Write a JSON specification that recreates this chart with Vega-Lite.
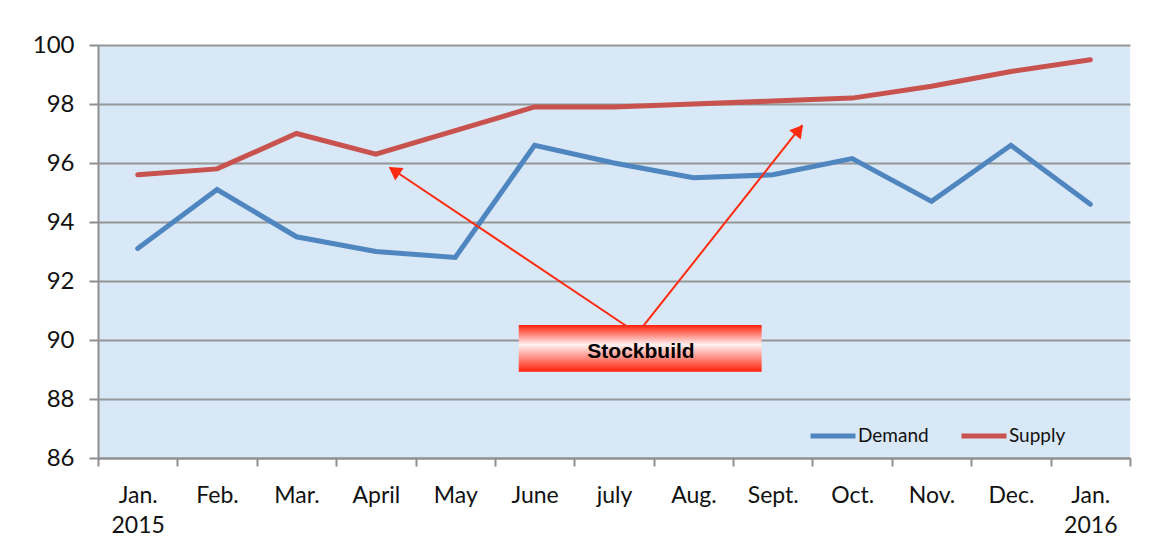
{
  "$schema": "https://vega.github.io/schema/vega-lite/v6.json",
  "autosize": "none",
  "width": 1032,
  "height": 413,
  "padding": {"left": 98, "top": 45, "right": 44, "bottom": 96},
  "background": "#ffffff",
  "config": {
    "view": {"fill": "#d9e8f7", "stroke": null},
    "font": "Lato"
  },
  "datasets": {
    "series": [
      {"month": "Jan.|2015", "series": "Demand", "value": 93.1},
      {"month": "Feb.", "series": "Demand", "value": 95.1},
      {"month": "Mar.", "series": "Demand", "value": 93.5},
      {"month": "April", "series": "Demand", "value": 93.0},
      {"month": "May", "series": "Demand", "value": 92.8},
      {"month": "June", "series": "Demand", "value": 96.6},
      {"month": "july", "series": "Demand", "value": 96.0},
      {"month": "Aug.", "series": "Demand", "value": 95.5},
      {"month": "Sept.", "series": "Demand", "value": 95.6},
      {"month": "Oct.", "series": "Demand", "value": 96.15},
      {"month": "Nov.", "series": "Demand", "value": 94.7},
      {"month": "Dec.", "series": "Demand", "value": 96.6},
      {"month": "Jan.|2016", "series": "Demand", "value": 94.6},
      {"month": "Jan.|2015", "series": "Supply", "value": 95.6},
      {"month": "Feb.", "series": "Supply", "value": 95.8},
      {"month": "Mar.", "series": "Supply", "value": 97.0},
      {"month": "April", "series": "Supply", "value": 96.3},
      {"month": "May", "series": "Supply", "value": 97.1},
      {"month": "June", "series": "Supply", "value": 97.9},
      {"month": "july", "series": "Supply", "value": 97.9},
      {"month": "Aug.", "series": "Supply", "value": 98.0},
      {"month": "Sept.", "series": "Supply", "value": 98.1},
      {"month": "Oct.", "series": "Supply", "value": 98.2},
      {"month": "Nov.", "series": "Supply", "value": 98.6},
      {"month": "Dec.", "series": "Supply", "value": 99.1},
      {"month": "Jan.|2016", "series": "Supply", "value": 99.5}
    ],
    "box": [{"ax": 5.30, "ax2": 8.36, "ay": 88.92, "ay2": 90.51, "label": "Stockbuild", "tx": 6.84, "ty": 89.6}],
    "arrows": [
      {"ax": 6.73, "ay": 90.34, "ax2": 3.68, "ay2": 95.84, "hx": 3.73, "hy": 95.74, "angle": 304},
      {"ax": 6.83, "ay": 90.34, "ax2": 8.87, "ay2": 97.28, "hx": 8.83, "hy": 97.12, "angle": 38.5}
    ]
  },
  "resolve": {"scale": {"x": "independent"}},
  "layer": [
    {
      "data": {"name": "series"},
      "mark": {"type": "line", "strokeWidth": 5, "strokeCap": "round", "strokeJoin": "miter"},
      "encoding": {
        "x": {
          "field": "month",
          "type": "nominal",
          "sort": null,
          "bandPosition": 0.5,
          "scale": {"type": "band", "paddingInner": 0, "paddingOuter": 0},
          "axis": {
            "title": null,
            "labelAngle": 0,
            "labelExpr": "split(datum.label, '|')",
            "labelFont": "Lato",
            "labelFontSize": 23,
            "labelColor": "#111111",
            "labelLineHeight": 30,
            "labelPadding": 18,
            "labelBaseline": "top",
            "tickBand": "extent",
            "tickSize": 8,
            "tickColor": "#8f8f8f",
            "tickWidth": 2,
            "domainColor": "#8f8f8f",
            "domainWidth": 2,
            "grid": false
          }
        },
        "y": {
          "field": "value",
          "type": "quantitative",
          "scale": {"domain": [86, 100], "nice": false, "zero": false},
          "axis": {
            "title": null,
            "values": [86, 88, 90, 92, 94, 96, 98, 100],
            "labelFont": "Lato",
            "labelFontSize": 24,
            "labelColor": "#111111",
            "labelPadding": 15,
            "tickSize": 9,
            "tickColor": "#8f8f8f",
            "tickWidth": 2,
            "domainColor": "#8f8f8f",
            "domainWidth": 2,
            "grid": true,
            "gridColor": "#969696",
            "gridWidth": 2
          }
        },
        "color": {
          "field": "series",
          "type": "nominal",
          "scale": {"domain": ["Demand", "Supply"], "range": ["#4f86c0", "#c8524e"]},
          "legend": {
            "title": null,
            "orient": "none",
            "direction": "horizontal",
            "legendX": 710,
            "legendY": 366,
            "symbolType": "stroke",
            "symbolSize": 2025,
            "symbolStrokeWidth": 5,
            "labelFont": "Lato",
            "labelFontSize": 19,
            "labelColor": "#111111",
            "labelOffset": 0,
            "columnPadding": 22,
            "padding": 0
          }
        }
      }
    },
    {
      "data": {"name": "arrows"},
      "mark": {"type": "rule", "color": "#ff2a10", "strokeWidth": 2},
      "encoding": {
        "x": {"field": "ax", "type": "quantitative", "scale": {"domain": [0, 13], "nice": false, "zero": false}, "axis": null},
        "x2": {"field": "ax2"},
        "y": {"field": "ay", "type": "quantitative"},
        "y2": {"field": "ay2"}
      }
    },
    {
      "data": {"name": "arrows"},
      "mark": {"type": "point", "shape": "triangle-up", "filled": true, "color": "#ff2a10", "size": 220, "opacity": 1},
      "encoding": {
        "x": {"field": "hx", "type": "quantitative", "scale": {"domain": [0, 13], "nice": false, "zero": false}, "axis": null},
        "y": {"field": "hy", "type": "quantitative"},
        "angle": {"field": "angle", "type": "quantitative", "scale": null}
      }
    },
    {
      "data": {"name": "box"},
      "mark": {
        "type": "rect",
        "color": {
          "gradient": "linear",
          "x1": 0, "y1": 0, "x2": 0, "y2": 1,
          "stops": [
            {"offset": 0, "color": "#ff1f0a"},
            {"offset": 0.42, "color": "#fff2f2"},
            {"offset": 1, "color": "#ff1f0a"}
          ]
        }
      },
      "encoding": {
        "x": {"field": "ax", "type": "quantitative", "scale": {"domain": [0, 13], "nice": false, "zero": false}, "axis": null},
        "x2": {"field": "ax2"},
        "y": {"field": "ay", "type": "quantitative"},
        "y2": {"field": "ay2"}
      }
    },
    {
      "data": {"name": "box"},
      "mark": {"type": "text", "font": "Liberation Sans", "fontWeight": "bold", "fontSize": 21, "color": "#000000", "align": "center", "baseline": "middle"},
      "encoding": {
        "x": {"field": "tx", "type": "quantitative", "scale": {"domain": [0, 13], "nice": false, "zero": false}, "axis": null},
        "y": {"field": "ty", "type": "quantitative"},
        "text": {"field": "label"}
      }
    }
  ]
}
